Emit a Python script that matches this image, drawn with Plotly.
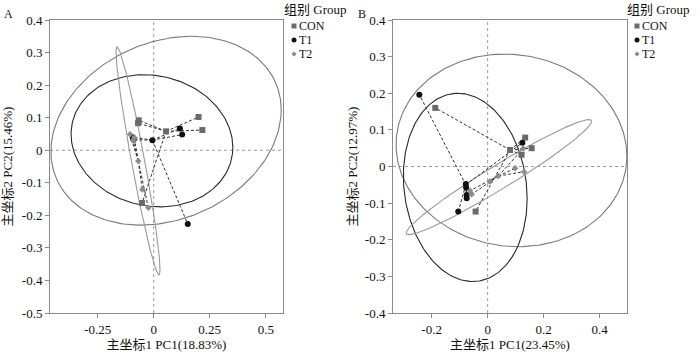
import numpy as np
import plotly.graph_objects as go

# ---------------- data ----------------
groups = ["CON", "T1", "T2"]

# Panel A  PC1(18.83%) / PC2(15.46%)
A_CON_x = [-0.067, -0.070, 0.055, 0.200, 0.217, -0.052]
A_CON_y = [0.092, 0.083, 0.058, 0.102, 0.062, -0.162]
A_T1_x = [-0.094, -0.090, -0.006, 0.117, 0.127, 0.152]
A_T1_y = [0.040, 0.032, 0.031, 0.067, 0.048, -0.227]
A_T2_x = [-0.106, -0.087, -0.092, -0.069, -0.051, -0.024]
A_T2_y = [0.049, 0.039, 0.030, -0.033, -0.121, -0.177]
A_centroid_x = [0.055, -0.006, -0.069]
A_centroid_y = [0.058, 0.031, -0.033]
# ellipse parameters: centre x, centre y, x half-extent, y half-extent, correlation
A_ell_cx = [0.055, -0.008, -0.070]
A_ell_cy = [0.060, 0.029, -0.033]
A_ell_sx = [0.514, 0.361, 0.098]
A_ell_sy = [0.290, 0.203, 0.350]
A_ell_r = [0.22, -0.10, -0.952]

# Panel B  PC1(23.45%) / PC2(12.97%)
B_CON_x = [-0.187, 0.134, 0.157, 0.080, 0.121, -0.043]
B_CON_y = [0.160, 0.079, 0.050, 0.045, 0.032, -0.123]
B_T1_x = [-0.244, 0.124, -0.078, -0.077, -0.075, -0.075, -0.105]
B_T1_y = [0.196, 0.065, -0.048, -0.057, -0.078, -0.087, -0.123]
B_T2_x = [0.127, 0.098, 0.130, 0.038, 0.008, -0.063, -0.057]
B_T2_y = [0.049, -0.005, -0.014, -0.026, -0.041, -0.066, -0.076]
B_centroid_x = [0.080, -0.078, 0.038]
B_centroid_y = [0.045, -0.050, -0.026]
B_ell_cx = [0.085, -0.080, 0.040]
B_ell_cy = [0.044, -0.057, -0.029]
B_ell_sx = [0.412, 0.221, 0.331]
B_ell_sy = [0.263, 0.257, 0.157]
B_ell_r = [-0.06, -0.12, 0.970]

A_xticks = [-0.25, 0, 0.25, 0.5]
A_xticklabels = ["-0.25", "0", "0.25", "0.5"]
A_yticks = [0.4, 0.3, 0.2, 0.1, 0, -0.1, -0.2, -0.3, -0.4, -0.5]
A_yticklabels = ["0.4", "0.3", "0.2", "0.1", "0", "-0.1", "-0.2", "-0.3", "-0.4", "-0.5"]
B_xticks = [-0.2, 0, 0.2, 0.4]
B_xticklabels = ["-0.2", "0", "0.2", "0.4"]
B_yticks = [0.4, 0.3, 0.2, 0.1, 0, -0.1, -0.2, -0.3, -0.4]
B_yticklabels = ["0.4", "0.3", "0.2", "0.1", "0", "-0.1", "-0.2", "-0.3", "-0.4"]

A_xtitle = "主坐标1 PC1(18.83%)"
A_ytitle = "主坐标2 PC2(15.46%)"
B_xtitle = "主坐标1 PC1(23.45%)"
B_ytitle = "主坐标2 PC2(12.97%)"
legend_title = "组别 Group"
panel_labels = ["A", "B"]

# ---------------- styles ----------------
FONT = "Liberation Serif, 'Noto Sans CJK SC', serif"
marker_sym = {"CON": "square", "T1": "circle", "T2": "diamond"}
marker_col = {"CON": "#6a6a6a", "T1": "#111111", "T2": "#8c8c8c"}
marker_size = {"CON": 6, "T1": 6, "T2": 5}
ell_col = {"CON": "#7a7a7a", "T1": "#2a2a2a", "T2": "#9a9a9a"}

W, H = 700, 356
ML, MR, MT, MB = 50, 4, 20, 43
PW, PH = W - ML - MR, H - MT - MB


def xp(px):
    return (px - ML) / PW


def yp(py):
    return (H - MB - py) / PH


fig = go.Figure()


def ellipse(cx, cy, sx, sy, r, n=240):
    t = np.linspace(0, 2 * np.pi, n)
    x = cx + sx * np.cos(t)
    y = cy + sy * (r * np.cos(t) + np.sqrt(1 - r * r) * np.sin(t))
    return x, y


def add_panel(xa, ya, pts, cen_x, cen_y, ecx, ecy, esx, esy, er):
    for i, g in enumerate(groups):
        ex, ey = ellipse(ecx[i], ecy[i], esx[i], esy[i], er[i])
        fig.add_trace(go.Scatter(x=ex, y=ey, mode="lines", xaxis=xa, yaxis=ya,
                                 line=dict(color=ell_col[g], width=1.1),
                                 showlegend=False, hoverinfo="skip"))
    for i, g in enumerate(groups):
        px, py = pts[g]
        sx, sy = [], []
        for a, b in zip(px, py):
            sx += [cen_x[i], a, None]
            sy += [cen_y[i], b, None]
        fig.add_trace(go.Scatter(x=sx, y=sy, mode="lines", xaxis=xa, yaxis=ya,
                                 line=dict(color="#333333", width=1, dash="3px,2px"),
                                 showlegend=False, hoverinfo="skip"))
    for g in groups:
        px, py = pts[g]
        fig.add_trace(go.Scatter(x=px, y=py, mode="markers", name=g, xaxis=xa, yaxis=ya,
                                 showlegend=False,
                                 marker=dict(symbol=marker_sym[g], color=marker_col[g],
                                             size=marker_size[g], line=dict(width=0))))


add_panel("x", "y",
          {"CON": (A_CON_x, A_CON_y), "T1": (A_T1_x, A_T1_y), "T2": (A_T2_x, A_T2_y)},
          A_centroid_x, A_centroid_y, A_ell_cx, A_ell_cy, A_ell_sx, A_ell_sy, A_ell_r)
add_panel("x2", "y2",
          {"CON": (B_CON_x, B_CON_y), "T1": (B_T1_x, B_T1_y), "T2": (B_T2_x, B_T2_y)},
          B_centroid_x, B_centroid_y, B_ell_cx, B_ell_cy, B_ell_sx, B_ell_sy, B_ell_r)

# ---- compact legends (key symbols on a pixel-space helper axis) ----
legend_left = [283, 626]          # left edge of each legend title, pixels
key_rows = [26, 40, 54]            # row centres, pixels from top
for lx in legend_left:
    fig.add_annotation(text=legend_title, xref="paper", yref="paper", x=xp(lx), y=yp(10),
                       xanchor="left", yanchor="middle", showarrow=False, borderpad=0,
                       font=dict(size=13, family=FONT, color="#111"))
    for g, ry in zip(groups, key_rows):
        fig.add_trace(go.Scatter(x=[lx + 11], y=[ry], mode="markers", xaxis="x3", yaxis="y3",
                                 cliponaxis=False, showlegend=False, hoverinfo="skip",
                                 marker=dict(symbol=marker_sym[g], color=marker_col[g],
                                             size=marker_size[g] - 1, line=dict(width=0))))
        fig.add_annotation(text=g, xref="paper", yref="paper", x=xp(lx + 15), y=yp(ry),
                           xanchor="left", yanchor="middle", showarrow=False, borderpad=0,
                           font=dict(size=12, family=FONT, color="#111"))

# panel labels
for lab, (lx, ly) in zip(panel_labels, [(8, 14), (362, 14)]):
    fig.add_annotation(text=lab, xref="paper", yref="paper", x=xp(lx), y=yp(ly),
                       showarrow=False, xanchor="center", yanchor="middle",
                       font=dict(size=12, family=FONT, color="#111"))

axis_common = dict(showgrid=False, zeroline=False, showline=True, mirror=True,
                   linecolor="#8a8a8a", linewidth=1, ticks="outside", ticklen=4,
                   tickcolor="#8a8a8a", tickfont=dict(size=13, color="#111", family=FONT),
                   title_font=dict(size=13, color="#111", family=FONT))

fig.update_layout(
    width=W, height=H,
    margin=dict(l=ML, r=MR, t=MT, b=MB, autoexpand=False),
    paper_bgcolor="white", plot_bgcolor="rgba(0,0,0,0)",
    font=dict(family=FONT, size=13, color="#111"),
    showlegend=False,
    xaxis=dict(domain=[0, xp(283)], range=[-0.463, 0.577], tickvals=A_xticks,
               ticktext=A_xticklabels, title=dict(text=A_xtitle, standoff=4), **axis_common),
    yaxis=dict(domain=[0, 1], range=[-0.5, 0.4], tickvals=A_yticks,
               ticktext=A_yticklabels, title=dict(text=A_ytitle, standoff=7), **axis_common),
    xaxis2=dict(domain=[xp(393), xp(627)], range=[-0.338, 0.4975], tickvals=B_xticks,
                ticktext=B_xticklabels, title=dict(text=B_xtitle, standoff=4), anchor="y2",
                **axis_common),
    yaxis2=dict(domain=[0, 1], range=[-0.4, 0.4], tickvals=B_yticks,
                ticktext=B_yticklabels, title=dict(text=B_ytitle, standoff=4), anchor="x2",
                **axis_common),
    # helper axis in pixel units of the plotting region (legend keys only)
    xaxis3=dict(domain=[0, 1], range=[ML, W - MR], visible=False, anchor="y3",
                fixedrange=True),
    yaxis3=dict(domain=[0, 1], range=[H - MB, MT], visible=False, anchor="x3",
                fixedrange=True),
)

# dotted zero reference lines
for xr, yr in [("x", "y"), ("x2", "y2")]:
    fig.add_shape(type="line", xref=xr, yref=yr + " domain", x0=0, x1=0, y0=0, y1=1,
                  line=dict(color="#9a9a9a", width=1, dash="dot"), layer="below")
    fig.add_shape(type="line", xref=xr + " domain", yref=yr, x0=0, x1=1, y0=0, y1=0,
                  line=dict(color="#9a9a9a", width=1, dash="dot"), layer="below")

fig.write_html("out.html", config={"displayModeBar": False},
               post_script="document.body.style.margin='0px';")
